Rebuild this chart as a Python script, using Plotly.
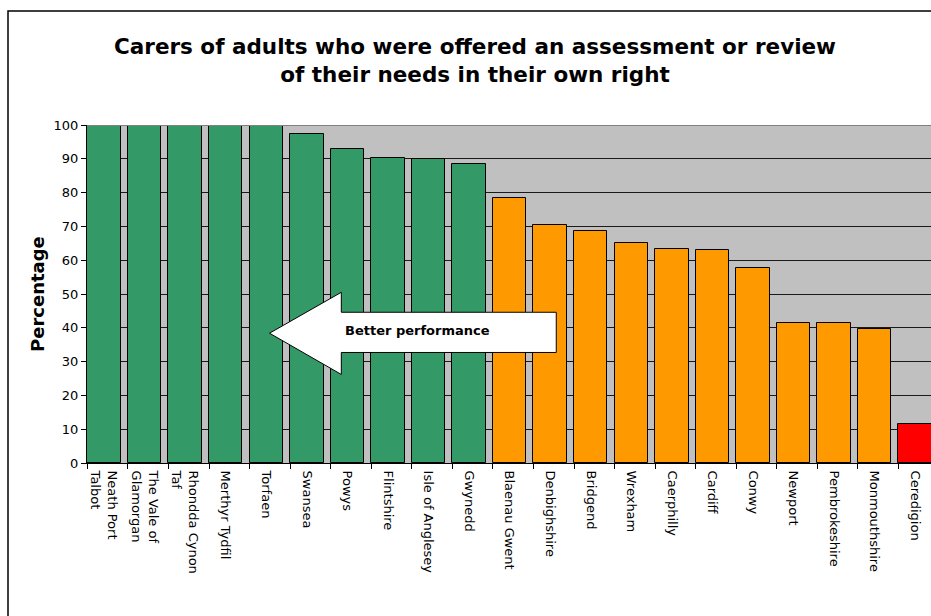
import plotly.graph_objects as go

# Local authorities, ordered by share of carers offered an assessment
authorities = [
    "Neath Port<br>Talbot", "The Vale of<br>Glamorgan", "Rhondda Cynon<br>Taf",
    "Merthyr Tydfil", "Torfaen", "Swansea", "Powys", "Flintshire",
    "Isle of Anglesey", "Gwynedd", "Blaenau Gwent", "Denbighshire", "Bridgend",
    "Wrexham", "Caerphilly", "Cardiff", "Conwy", "Newport", "Pembrokeshire",
    "Monmouthshire", "Ceredigion",
]
percentages = [100, 100, 100, 100, 100, 97.2, 92.8, 90.3, 89.9, 88.6,
               78.4, 70.4, 68.6, 65.0, 63.3, 63.0, 57.8, 41.5, 41.5, 39.5, 11.5]
bands = ["green"] * 10 + ["amber"] * 10 + ["red"]
band_colours = {"green": "#339966", "amber": "#FF9900", "red": "#FF0000"}
y_ticks = list(range(0, 101, 10))

positions = list(range(len(authorities)))
bar_width = 0.824
edges = [p - bar_width / 2 for p in positions]

fig = go.Figure()
fig.add_trace(go.Bar(
    x=positions, y=percentages, width=bar_width,
    marker=dict(color=[band_colours[b] for b in bands],
                line=dict(color="#000000", width=1)),
    hoverinfo="x+y", showlegend=False,
))
# helper trace so the tick-only axis gets drawn
fig.add_trace(go.Scatter(x=[0], y=[None], xaxis="x2", mode="markers",
                         showlegend=False, hoverinfo="skip"))

# block arrow: "Better performance" points to the left
tip_x, head_x, tail_x = 4.08, 5.85, 11.15
tip_y, head_top, head_bot, shaft_top, shaft_bot = 38.4, 50.5, 26.2, 44.6, 32.7
arrow_path = (f"M {tip_x},{tip_y} L {head_x},{head_top} L {head_x},{shaft_top} "
              f"L {tail_x},{shaft_top} L {tail_x},{shaft_bot} L {head_x},{shaft_bot} "
              f"L {head_x},{head_bot} Z")

fig.update_layout(
    width=931, height=616,
    margin=dict(l=87, r=0, t=125, b=153),
    paper_bgcolor="#FFFFFF", plot_bgcolor="#C0C0C0",
    font=dict(family="DejaVu Sans, Verdana, sans-serif", color="#000000", size=13),
    bargap=0,
    title=dict(
        text="<b>Carers of adults who were offered an assessment or review<br>"
             "of their needs in their own right</b>",
        x=475 / 931, xanchor="center", xref="container",
        y=1 - 54 / 616, yanchor="middle", yref="container",
        font=dict(size=21.5, family="DejaVu Sans, Verdana, sans-serif"),
    ),
    xaxis=dict(
        range=[-0.42, 20.39], tickmode="array", tickvals=positions,
        ticktext=authorities, tickangle=90, ticks="outside", ticklen=4,
        tickcolor="rgba(0,0,0,0)", showgrid=False, zeroline=False,
        showline=True, linecolor="#000000", linewidth=1,
        tickfont=dict(size=13), fixedrange=True,
    ),
    xaxis2=dict(
        overlaying="x", matches="x", side="bottom", tickmode="array",
        tickvals=edges, ticks="outside", ticklen=5, tickcolor="#000000",
        showticklabels=False, showgrid=False, zeroline=False, showline=False,
    ),
    yaxis=dict(
        range=[0, 100], tickmode="array", tickvals=y_ticks,
        ticks="outside", ticklen=5, tickcolor="#000000",
        showgrid=True, gridcolor="#1a1a1a", gridwidth=1, zeroline=False,
        showline=True, linecolor="#000000", linewidth=1,
        tickfont=dict(size=13), fixedrange=True,
    ),
    shapes=[
        # chart frame
        dict(type="rect", xref="paper", yref="paper",
             x0=(8 - 87) / 844, x1=1.02, y0=-0.48, y1=(463 - 11) / 338,
             line=dict(color="#000000", width=1.5), fillcolor="rgba(0,0,0,0)",
             layer="below"),
        # top edge of plot area
        dict(type="line", xref="paper", yref="y", x0=0, x1=1, y0=100, y1=100,
             line=dict(color="#808080", width=2)),
        dict(type="path", xref="x", yref="y", path=arrow_path,
             fillcolor="#FFFFFF", line=dict(color="#000000", width=1)),
    ],
    annotations=[
        dict(text="<b>Percentage</b>", xref="paper", yref="paper",
             x=(37 - 87) / 844, y=0.5, xanchor="center", yanchor="middle",
             textangle=-90, showarrow=False, font=dict(size=18)),
        dict(text="<b>Better performance</b>", xref="x", yref="y",
             x=7.72, y=39.3, xanchor="center", yanchor="middle",
             showarrow=False, font=dict(size=13)),
    ],
)

fig.write_html("out.html")
